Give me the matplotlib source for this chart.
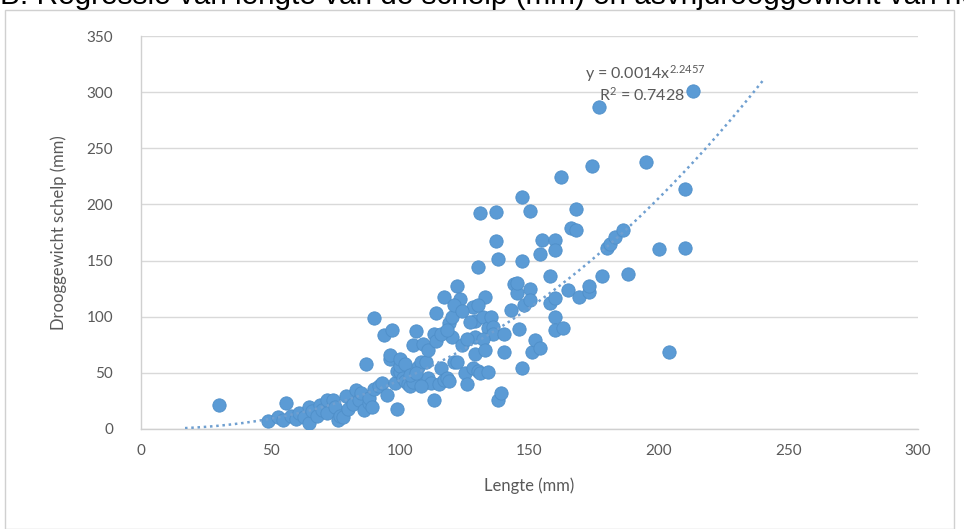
import numpy as np
import matplotlib
matplotlib.use("Agg")
import matplotlib.pyplot as plt
from matplotlib.patches import Rectangle

# ---- data ----
lengte = [30, 49, 53, 56, 55, 58, 60, 61, 63, 65, 65, 66, 68, 69, 70, 72, 72, 74, 75, 76,
          77, 78, 79, 80, 82, 83, 84, 85, 86, 88, 88, 87, 89, 90, 90, 92, 93, 94, 95, 96,
          96, 97, 98, 99, 99, 100, 100, 101, 102, 103, 104, 105, 105, 106, 107, 108, 109, 110, 110, 111,
          112, 113, 113, 114, 115, 116, 117, 117, 118, 119, 119, 120, 121, 122, 122, 123, 124, 125, 126, 128,
          128, 129, 129, 129, 130, 130, 131, 131, 132, 133, 134, 134, 135, 136, 136, 137, 137, 138, 138, 139,
          140, 140, 143, 144, 145, 145, 146, 147, 147, 147, 148, 150, 150, 150, 151, 152, 154, 155, 154, 158,
          158, 160, 160, 160, 160, 160, 163, 162, 165, 166, 168, 168, 169, 173, 174, 173, 177, 178, 180, 181,
          183, 186, 188, 195, 200, 204, 210, 210, 213,
          100, 102, 104, 106, 108, 111, 114, 116, 118, 120, 121, 124, 126, 127, 130, 132, 133]
drooggewicht = [21, 7, 11, 23, 8, 12, 9, 14, 11, 20, 5, 16, 12, 21, 17, 26, 14, 26, 20, 8,
                12, 11, 29, 18, 22, 35, 26, 32, 17, 23, 28, 58, 20, 99, 36, 38, 41, 84, 30, 62,
                66, 88, 41, 18, 52, 51, 56, 45, 43, 40, 38, 42, 75, 87, 55, 60, 76, 60, 43, 45,
                41, 85, 26, 103, 40, 54, 118, 44, 45, 94, 43, 82, 60, 60, 127, 116, 75, 50, 40, 109,
                54, 96, 82, 67, 144, 52, 192, 50, 100, 118, 51, 90, 100, 91, 85, 193, 167, 151, 26, 32,
                85, 69, 106, 129, 121, 130, 89, 207, 150, 54, 110, 194, 125, 115, 69, 79, 72, 168, 156, 136,
                112, 168, 159, 117, 100, 88, 90, 224, 124, 179, 177, 196, 118, 122, 234, 127, 287, 136, 161, 165,
                171, 177, 138, 238, 160, 69, 214, 161, 301,
                62, 58, 48, 50, 38, 70, 78, 85, 88, 100, 110, 105, 80, 95, 110, 80, 70]

# power trendline shown in the chart
coef_a = 0.0014
coef_b = 2.2457
r_squared = 0.7428
trend_x_start, trend_x_end = 17, 240

x_ticks = [0, 50, 100, 150, 200, 250, 300]
y_ticks = [0, 50, 100, 150, 200, 250, 300, 350]

title_text = "B. Regressie van lengte van de schelp (mm) en asvrijdrooggewicht van het"
x_label = "Lengte (mm)"
y_label = "Drooggewicht schelp (mm)"

# ---- styling ----
plt.rcParams['font.family'] = ['Lato', 'DejaVu Sans']
plt.rcParams['mathtext.fontset'] = 'custom'
plt.rcParams['mathtext.rm'] = 'Lato'
plt.rcParams['mathtext.it'] = 'Lato'

W, H = 964, 529
fig = plt.figure(figsize=(W / 100, H / 100), dpi=100)
fig.patch.set_facecolor('white')

# chart border
fig.patches.append(Rectangle((5 / W, 0.0), (954 - 5) / W, 1 - 10 / H,
                             transform=fig.transFigure, fill=False,
                             edgecolor='#d0d0d0', linewidth=1.0))

# title (cut off at the top edge, as in the source image)
fig.text(0.0, 1 - 4 / H, title_text, fontsize=21.4, family=['Liberation Sans', 'DejaVu Sans'],
         color='black', ha='left', va='baseline')

ax = fig.add_axes([141 / W, 1 - 429 / H, (918 - 141) / W, (429 - 36) / H])
ax.set_xlim(0, 300)
ax.set_ylim(0, 350)
ax.set_xticks(x_ticks)
ax.set_yticks(y_ticks)
ax.tick_params(length=0, colors='#595959', labelsize=11)
ax.tick_params(axis='x', pad=11)
ax.tick_params(axis='y', pad=20)
ax.grid(axis='y', color='#d9d9d9', linewidth=1.0)
ax.set_axisbelow(True)
for s in ['top', 'right']:
    ax.spines[s].set_visible(False)
for s in ['left', 'bottom']:
    ax.spines[s].set_color('#d0d0d0')
    ax.spines[s].set_linewidth(1.0)

ax.scatter(lengte, drooggewicht, s=92, color='#5B9BD5', edgecolors='#4f8fc9',
           linewidths=0.6, zorder=3)

tx = np.linspace(trend_x_start, trend_x_end, 200)
ax.plot(tx, coef_a * tx ** coef_b, color='#6f9fd0', linewidth=1.8,
        linestyle=(0, (1, 1.5)), zorder=4)

ax.text(171.5, 312, r'y = 0.0014x$^{2.2457}$', fontsize=11.5, color='#595959',
        ha='left', va='baseline', zorder=2)
ax.text(177, 292, r'R$^{2}$ = 0.7428', fontsize=11.5, color='#595959',
        ha='left', va='baseline', zorder=2)

ax.set_xlabel(x_label, fontsize=12, color='#595959', labelpad=14)
ax.set_ylabel(y_label, fontsize=12, color='#595959', labelpad=14)

fig.savefig('out.png', dpi=100, facecolor='white')
